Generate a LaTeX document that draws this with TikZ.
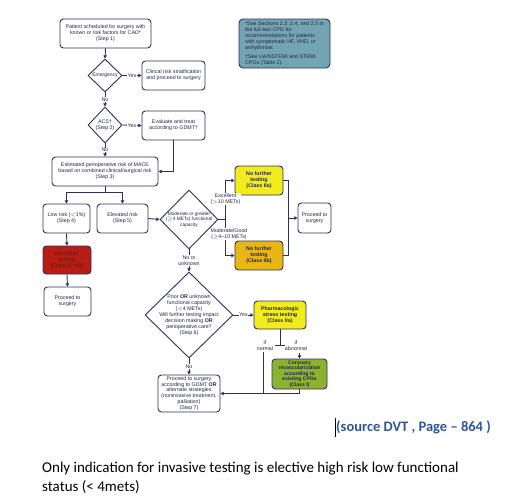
\documentclass[tikz,border=0pt]{standalone}
\usepackage{fontspec}
\setmainfont{Liberation Sans}
\newfontfamily\carlito{Carlito}
\usetikzlibrary{shapes.geometric,arrows.meta,calc}
\definecolor{navy}{HTML}{2D2F5E}
\definecolor{yel}{HTML}{F2EC1E}
\definecolor{gold}{HTML}{E8B714}
\definecolor{grn}{HTML}{8DB32E}
\definecolor{redb}{HTML}{B51D15}
\definecolor{redt}{HTML}{6A1210}
\definecolor{teal}{HTML}{72A5B1}
\definecolor{srcblue}{HTML}{2F5597}
\tikzset{
  tiny/.style={font=\fontsize{5.3}{5.9}\selectfont},
  box/.style={draw=navy, line width=0.9pt, rounded corners=3.5pt, fill=white, align=center,
    tiny, text=navy!80!black, inner sep=0.5pt},
  cbox/.style={box, font=\fontsize{5.3}{5.9}\selectfont\bfseries},
  dia/.style={draw=navy, line width=0.9pt, diamond, fill=white, inner sep=0pt},
  dtxt/.style={align=center, tiny, text=navy!80!black, inner sep=0pt},
  lab/.style={fill=white, inner sep=0.6pt, align=center, tiny, text=navy!80!black},
  conn/.style={draw=navy, line width=0.9pt},
  arr/.style={conn, -{Triangle[length=3.2pt,width=3.4pt]}},
}
\begin{document}
\begin{tikzpicture}[x=1pt,y=-1pt]
\useasboundingbox (0,0) rectangle (510,498);
% boxes
\node[box, minimum width=91pt, minimum height=29pt] (s1) at (105.5,33.5)
  {Patient scheduled for surgery with\\known or risk factors for CAD*\\(Step 1)};
\node[dia, minimum width=34pt, minimum height=33pt,
  label={[dtxt, font=\fontsize{5}{5.6}\selectfont]center:Emergency}] (em) at (105,75.5) {};
\node[box, minimum width=63pt, minimum height=29pt] (cl) at (173.5,75.5)
  {Clincal risk stratification\\and proceed to surgery};
\node[dia, minimum width=34pt, minimum height=36pt,
  label={[dtxt]center:{ACS\textdagger\\(Step 2)}}] (acs) at (105,125) {};
\node[box, minimum width=63pt, minimum height=29pt] (ev) at (173.5,125.5)
  {Evaluate and treat\\according to GDMT\textdagger};
\node[box, minimum width=106pt, minimum height=29pt] (s3) at (105,171.5)
  {Estimated perioperative risk of MACE\\based on combined clinical/surgical risk\\(Step 3)};
\node[box, minimum width=47pt, minimum height=29pt] (low) at (66.5,218.5)
  {Low risk (${<}$1\%)\\(Step 4)};
\node[box, minimum width=51pt, minimum height=29pt] (el) at (122.5,218.5)
  {Elevated risk\\(Step 5)};
\node[dia, minimum width=58pt, minimum height=59pt,
  label={[dtxt, font=\fontsize{4.8}{5.4}\selectfont]center:{Moderate or greater\\(${\geq}$4 METs) functional\\capacity}}] (fc) at (189,219.5) {};
\node[cbox, fill=yel, minimum width=48pt, minimum height=29pt] (nf1) at (259,180.5)
  {No further\\testing\\(Class IIa)};
\node[cbox, fill=gold, minimum width=48pt, minimum height=29pt] (nf2) at (259,255.5)
  {No further\\testing\\(Class IIb)};
\node[box, minimum width=33pt, minimum height=30pt] (pts) at (314.5,218)
  {Proceed to\\surgery};
\node[box, fill=redb, text=redt, minimum width=48pt, minimum height=28pt] (red) at (67,260)
  {No further\\testing\\(Class III: NB)};
\node[box, minimum width=47pt, minimum height=29pt] (pt2) at (67.5,301.5)
  {Proceed to\\surgery};
\node[dia, minimum width=88pt, minimum height=86pt,
  label={[dtxt]center:{Poor \textbf{OR} unknown\\functional capacity\\(${<}$4 METs)\\Will further testing impact\\decision making \textbf{OR}\\perioperative care?\\(Step 6)}}] (s6) at (189,315) {};
\node[cbox, fill=yel, minimum width=52pt, minimum height=28pt] (ph) at (280,315)
  {Pharmacologic\\stress testing\\(Class IIa)};
\node[cbox, fill=grn, minimum width=55pt, minimum height=30pt, font=\fontsize{5.1}{5.6}\selectfont\bfseries] (gr) at (299.5,374)
  {Coronary\\revascularization\\according to\\existing CPGs\\(Class I)};
\node[box, minimum width=62pt, minimum height=37pt] (s7) at (189,393.5)
  {Proceed to surgery\\according to GDMT \textbf{OR}\\alternate strategies\\(noninvasive treatment,\\palliation)\\(Step 7)};
\node[draw=navy, line width=0.9pt, rounded corners=4pt, fill=teal, minimum width=91pt, minimum height=49pt,
  align=left, tiny, text=navy!80!black, inner sep=1.5pt] (note) at (284.5,43.5)
  {*See Sections 2.2, 2.4, and 2.5 in\\the full-text CPG for\\recommendations for patients\\with symptomatic HF, VHD, or\\arrhythmias.\\[3pt]\textdagger See UA/NSTEMI and STEMI\\CPGs (Table 2).};
% connectors
\draw[arr] (s1.south) -- (em.north);
\draw[arr] (em.east) -- node[lab] {Yes} (cl.west);
\draw[arr] (em.south) -- node[lab] {No} (acs.north);
\draw[arr] (acs.east) -- node[lab] {Yes} (ev.west);
\draw[arr] (acs.south) -- node[lab] {No} (s3.north);
\draw[arr] (ev.south) |- (s3.east);
\coordinate (br) at ($(s3.south)+(0,6)$);
\draw[conn] (s3.south) -- (br);
\draw[arr] (br) -| (low.north);
\draw[arr] (br) -| (el.north);
\draw[arr] (el.east) -- (fc.west);
\coordinate (j1) at ($(fc.east)+(7,0)$);
\draw[conn] (fc.east) -- (j1);
\draw[arr] (j1) |- (nf1.west);
\draw[arr] (j1) |- (nf2.west);
\node[lab] (exc) at (225.5,199) {Excellent\\(${>}$10 METs)};
\node[lab] (mod) at (229,234) {Moderate/Good\\(${\geq}$4--10 METs)};
\coordinate (j2) at ($(nf1.east)+(5,0)$);
\draw[conn] (nf1.east) -- (j2) |- (nf2.east);
\draw[arr] (j2 |- pts.west) -- (pts.west);
\draw[arr] (fc.south) -- node[lab] {No or\\unknown} (s6.north);
\draw[arr] (s6.east) -- node[lab] {Yes} (ph.west);
\draw[arr] (s6.south) -- node[lab] {No} (s7.north);
\coordinate (tb) at ($(ph.south)+(0,16)$);
\draw[conn] (ph.south) -- (tb);
\draw[conn] ($(tb)+(-5,0)$) -- ($(tb)+(5,0)$);
\node[lab, fill=none] (nl) at (265,346) {if\\normal};
\node[lab, fill=none] (al) at (296,346) {if\\abnormal};
\coordinate (nrm) at (263,352);
\draw[conn] (nrm) -- (nrm |- s7.east);
\coordinate (abn) at (299.5,353);
\draw[arr] (abn) -- (gr.north);
\draw[arr] (gr.south) |- (s7.east);
\draw[arr] (low.south) -- (red.north);
\draw[arr] (red.south) -- (pt2.north);
% source and note texts
\draw[black, line width=0.4pt] (335.5,418) -- (335.5,437);
\node[anchor=west, inner sep=0pt, font=\carlito\fontsize{14.5}{16}\selectfont\bfseries, text=srcblue] (src) at (336,427.5)
  {(source DVT , Page – 864 )};
\node[anchor=north west, inner sep=0pt, align=left, font=\carlito\fontsize{15}{19}\selectfont] (bt) at (42,462)
  {Only indication for invasive testing is elective high risk low functional\\status (< 4mets)};
\end{tikzpicture}
\end{document}
